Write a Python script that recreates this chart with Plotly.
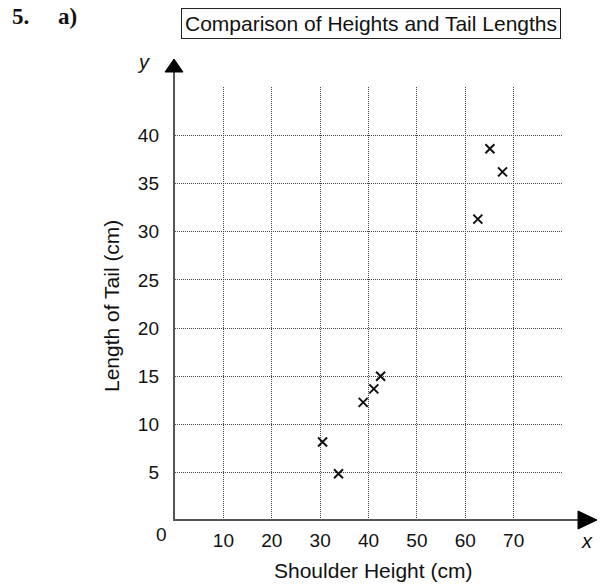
import plotly.graph_objects as go

# Data
shoulder_height = [30.5, 33.8, 38.9, 41.1, 42.5, 62.6, 65.1, 67.7]
tail_length = [8.2, 4.9, 12.3, 13.7, 15.0, 31.3, 38.6, 36.2]
x_grid = [10, 20, 30, 40, 50, 60, 70, 80]
x_labels = ["10", "20", "30", "40", "50", "60", "70", ""]
y_grid = [5, 10, 15, 20, 25, 30, 35, 40, 45]
y_labels = ["5", "10", "15", "20", "25", "30", "35", "40", ""]

W, H = 602, 584
L, R, T, B = 175, 562, 87, 521  # plot area pixel bounds

def px(x):
    return (x - L) / (R - L)

def py(y):
    return (B - y) / (B - T)

fig = go.Figure()
fig.add_trace(go.Scatter(
    x=shoulder_height, y=tail_length, mode="markers",
    marker=dict(symbol="x-thin", size=9, line=dict(width=2, color="#111"), color="#111"),
    cliponaxis=False, showlegend=False, hoverinfo="skip",
))

font = "Liberation Sans, Arial, sans-serif"
grid_col = "#444"

fig.update_layout(
    width=W, height=H,
    margin=dict(l=L, r=W - R, t=T, b=H - B, pad=0),
    plot_bgcolor="white", paper_bgcolor="white",
    font=dict(family=font, size=19, color="#111"),
    xaxis=dict(range=[0, 80], tickmode="array", tickvals=x_grid, ticktext=x_labels,
               showgrid=True, gridcolor=grid_col, griddash="1px,1px", gridwidth=1,
               zeroline=False, showline=False, ticks="", ticklabelstandoff=6,
               tickfont=dict(size=19, family=font, color="#111")),
    yaxis=dict(range=[0, 45], tickmode="array", tickvals=y_grid, ticktext=y_labels,
               showgrid=True, gridcolor=grid_col, griddash="1px,1px", gridwidth=1,
               zeroline=False, showline=False, ticks="", ticklabelstandoff=15,
               tickfont=dict(size=19, family=font, color="#111")),
)

shapes = []
# axis lines
shapes.append(dict(type="line", xref="paper", yref="paper",
                   x0=px(174), y0=py(521), x1=px(174), y1=py(68),
                   line=dict(color="#555", width=2)))
shapes.append(dict(type="line", xref="paper", yref="paper",
                   x0=px(174), y0=py(520), x1=px(582), y1=py(520),
                   line=dict(color="#555", width=2)))
# arrowheads
def tri(points):
    p = "M " + " L ".join(f"{px(a)},{py(b)}" for a, b in points) + " Z"
    return dict(type="path", xref="paper", yref="paper", path=p,
                fillcolor="black", line=dict(color="black", width=1))
shapes.append(tri([(174, 59), (165, 72), (183, 72)]))
shapes.append(tri([(597, 520), (578, 511), (578, 529)]))
fig.update_layout(shapes=shapes)

ann = []
def add(text, x, y, size=19, **kw):
    ann.append(dict(text=text, xref="paper", yref="paper", x=px(x), y=py(y),
                    xanchor="center", yanchor="middle", showarrow=False,
                    font=dict(size=size, family=kw.pop("family", font), color="#111"), **kw))

add("0", 161, 534)
add("<i>x</i>", 587, 541, size=20)
add("<i>y</i>", 143, 62, size=20)
add("Shoulder Height (cm)", 373, 570, size=21)
add("Length of Tail (cm)", 111, 306, size=21, textangle=-90)
add("<b>5.</b>", 20, 16, size=23, family="Liberation Serif, Times New Roman, serif")
add("<b>a)</b>", 67, 16, size=23, family="Liberation Serif, Times New Roman, serif")
add("Comparison of Heights and Tail Lengths", 371, 24, size=21,
    bordercolor="#222", borderwidth=1, borderpad=3)
fig.update_layout(annotations=ann)

fig.write_html("out.html", config={"displayModeBar": False},
               post_script="document.body.style.margin='0';document.body.style.overflow='hidden';")
